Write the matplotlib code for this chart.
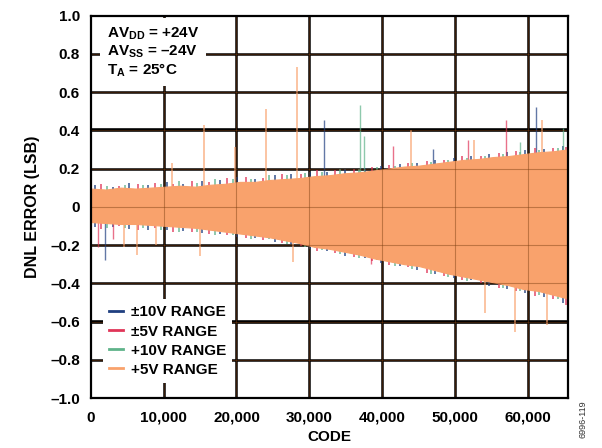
import numpy as np
import matplotlib
matplotlib.use('Agg')
import matplotlib.pyplot as plt
from matplotlib.lines import Line2D

plt.rcParams['font.family'] = ['Liberation Sans', 'DejaVu Sans']
plt.rcParams['mathtext.fontset'] = 'custom'
plt.rcParams['mathtext.rm'] = 'Liberation Sans:bold'
plt.rcParams['mathtext.bf'] = 'Liberation Sans:bold'

# огибающая +5V (основная оранжевая заливка), шаг 2048 кодов
codes_fine = [0, 2048, 4096, 6144, 8192, 10240, 12288, 14336, 16384, 18432,
              20480, 22528, 24576, 26624, 28672, 30720, 32768, 34816, 36864,
              38912, 40960, 43008, 45056, 47104, 49152, 51200, 53248, 55296,
              57344, 59392, 61440, 63488, 65535]
p5_upper = [0.095, 0.09, 0.10, 0.095, 0.10, 0.105, 0.11, 0.105, 0.115, 0.12,
            0.13, 0.13, 0.14, 0.145, 0.15, 0.16, 0.165, 0.175, 0.18, 0.19,
            0.20, 0.21, 0.215, 0.225, 0.235, 0.245, 0.25, 0.26, 0.265, 0.275,
            0.285, 0.29, 0.30]
p5_lower = [-0.08, -0.085, -0.09, -0.09, -0.095, -0.10, -0.105, -0.11, -0.12,
            -0.13, -0.14, -0.15, -0.16, -0.175, -0.19, -0.21, -0.22, -0.235,
            -0.25, -0.27, -0.285, -0.30, -0.31, -0.33, -0.35, -0.365, -0.38,
            -0.395, -0.41, -0.43, -0.44, -0.46, -0.48]

# остальные диапазоны: края шума (каждый со своим набором кодов)
codes_pm10 = [600, 3100, 5300, 7900, 10400, 12700, 15200, 17800, 20100, 22600,
              25300, 27500, 30100, 32400, 34900, 37600, 39800, 42500, 44800,
              47300, 49900, 52200, 54700, 57100, 59600, 62300, 64900]
pm10_upper = [0.115, 0.105, 0.125, 0.115, 0.13, 0.12, 0.135, 0.14, 0.155, 0.145,
              0.165, 0.17, 0.18, 0.18, 0.195, 0.205, 0.215, 0.225, 0.23, 0.245,
              0.255, 0.265, 0.275, 0.285, 0.295, 0.30, 0.32]
pm10_lower = [-0.105, -0.105, -0.115, -0.12, -0.12, -0.125, -0.135, -0.14,
              -0.16, -0.165, -0.185, -0.195, -0.22, -0.23, -0.26, -0.27, -0.295,
              -0.31, -0.33, -0.35, -0.375, -0.385, -0.415, -0.43, -0.45, -0.47,
              -0.505]
codes_pm5 = [1400, 3900, 6500, 8800, 11300, 13900, 16200, 18700, 21300, 23700,
             26200, 28800, 31000, 33500, 36100, 38600, 41000, 43500, 46100,
             48500, 51000, 53600, 56000, 58400, 61000, 63500, 65300]
pm5_upper = [0.12, 0.11, 0.12, 0.125, 0.12, 0.135, 0.13, 0.15, 0.155, 0.15,
             0.17, 0.17, 0.19, 0.19, 0.20, 0.21, 0.22, 0.23, 0.24, 0.245,
             0.265, 0.265, 0.28, 0.29, 0.305, 0.305, 0.315]
pm5_lower = [-0.115, -0.10, -0.12, -0.11, -0.13, -0.13, -0.145, -0.15, -0.165,
             -0.175, -0.19, -0.205, -0.23, -0.24, -0.265, -0.285, -0.305,
             -0.315, -0.345, -0.36, -0.385, -0.40, -0.425, -0.44, -0.465, -0.48,
             -0.515]
codes_p10 = [2200, 4700, 7200, 9600, 12100, 14600, 17000, 19500, 22000, 24500,
             27000, 29400, 31800, 34200, 36800, 39300, 41800, 44100, 46700,
             49100, 51600, 54100, 56600, 59000, 61600, 64100, 65500]
p10_upper = [0.11, 0.115, 0.115, 0.12, 0.135, 0.125, 0.145, 0.145, 0.145, 0.165,
             0.165, 0.175, 0.18, 0.195, 0.20, 0.21, 0.215, 0.23, 0.235, 0.245,
             0.255, 0.265, 0.275, 0.285, 0.295, 0.305, 0.33]
p10_lower = [-0.11, -0.11, -0.11, -0.12, -0.13, -0.13, -0.15, -0.15, -0.17,
             -0.17, -0.195, -0.21, -0.225, -0.245, -0.27, -0.28, -0.31, -0.325,
             -0.35, -0.365, -0.39, -0.395, -0.425, -0.44, -0.46, -0.48, -0.505]

# выбросы (код, значение)
spikes_pm10 = [(32000, 0.455), (61200, 0.52), (2000, -0.28), (47000, 0.30)]
spikes_pm5 = [(57000, 0.455), (51800, 0.35), (41500, 0.32), (38500, -0.30),
              (1000, -0.21), (3000, -0.17)]
spikes_p10 = [(36900, 0.53), (64800, 0.41), (37500, 0.37), (59000, 0.34)]
spikes_p5 = [(15600, 0.43), (24000, 0.51), (28300, 0.73), (44000, 0.40),
             (52600, 0.35), (61900, 0.455), (11100, 0.23), (19800, 0.31),
             (6300, -0.25), (15000, -0.26), (27700, -0.29), (54100, -0.555),
             (58300, -0.655), (62700, -0.62), (4500, -0.21), (8900, -0.20)]

labels = ['±10V RANGE', '±5V RANGE', '+10V RANGE', '+5V RANGE']
colors = ['#1f3f80', '#e03558', '#5fb38a', '#f9a26c']

yticks = [1.0, 0.8, 0.6, 0.4, 0.2, 0, -0.2, -0.4, -0.6, -0.8, -1.0]
ytick_labels = ['1.0', '0.8', '0.6', '0.4', '0.2', '0', '–0.2', '–0.4',
                '–0.6', '–0.8', '–1.0']
xticks = [0, 10000, 20000, 30000, 40000, 50000, 60000]
xtick_labels = ['0', '10,000', '20,000', '30,000', '40,000', '50,000', '60,000']

fig = plt.figure(figsize=(6.02, 4.48), dpi=100)
ax = fig.add_axes([0.151, 0.1116, 0.7925, 0.8538])

ax.set_xlim(0, 65535)
ax.set_ylim(-1, 1)

# сетка
for y in yticks[1:-1]:
    ax.axhline(y, color='black', lw=2.6 if y in (0.4, -0.6) else 1.8, zorder=0)
for x in xticks[1:]:
    ax.axvline(x, color='black', lw=1.8, zorder=0)

series = [(codes_pm10, pm10_upper, pm10_lower, spikes_pm10),
          (codes_pm5, pm5_upper, pm5_lower, spikes_pm5),
          (codes_p10, p10_upper, p10_lower, spikes_p10)]
for (cd, up, lo, sp), c in zip(series, colors[:3]):
    ax.vlines(cd, lo, up, color=c, lw=1.1, alpha=0.9, zorder=2)
    for code, v in sp:
        ax.vlines(code, 0, v, color=c, lw=1.0, alpha=0.7, zorder=2)

for code, v in spikes_p5:
    ax.vlines(code, 0, v, color=colors[3], lw=1.1, alpha=0.8, zorder=2)
ax.fill_between(codes_fine, p5_lower, p5_upper, color=colors[3], lw=0.8,
                edgecolor=colors[3], zorder=3)

# тонкая сетка поверх заливки
for y in yticks[1:-1]:
    ax.axhline(y, color='#7a3d10', lw=0.8, alpha=0.45, zorder=4)
for x in xticks[1:]:
    ax.axvline(x, color='#7a3d10', lw=0.8, alpha=0.45, zorder=4)

ax.set_yticks(yticks)
ax.set_yticklabels(ytick_labels)
ax.set_xticks(xticks)
ax.set_xticklabels(xtick_labels)
ax.tick_params(length=0, labelsize=11)
ax.tick_params(axis='y', pad=8)
ax.tick_params(axis='x', pad=9)
for lab in ax.get_xticklabels() + ax.get_yticklabels():
    lab.set_fontweight('bold')
for s in ax.spines.values():
    s.set_linewidth(1.6)
    s.set_zorder(6)

ax.set_xlabel('CODE', fontsize=11, fontweight='bold', labelpad=4)
ax.set_ylabel('DNL ERROR (LSB)', fontsize=11.5, fontweight='bold', labelpad=7)

ax.text(0.033, 0.975, 'AV$_{\\mathrm{DD}}$ = +24V\nAV$_{\\mathrm{SS}}$ = –24V\nT$_{\\mathrm{A}}$ = 25°C',
        transform=ax.transAxes, fontsize=11, fontweight='bold', va='top',
        linespacing=1.12, zorder=7,
        bbox=dict(facecolor='white', edgecolor='none', pad=5))

handles = [Line2D([], [], color=c, lw=2) for c in colors]
leg = ax.legend(handles, labels, loc='lower left', bbox_to_anchor=(0.01, 0.02),
                prop={'weight': 'bold', 'size': 11}, handlelength=0.9,
                handletextpad=0.5, labelspacing=0.33, frameon=True,
                facecolor='white', edgecolor='none', framealpha=1,
                borderpad=0.4)
leg.set_zorder(7)

fig.text(0.968, 0.065, '6996-119', rotation=90, fontsize=6.5, ha='center',
         va='center', color='#333333')

fig.savefig('out.png', dpi=100)
